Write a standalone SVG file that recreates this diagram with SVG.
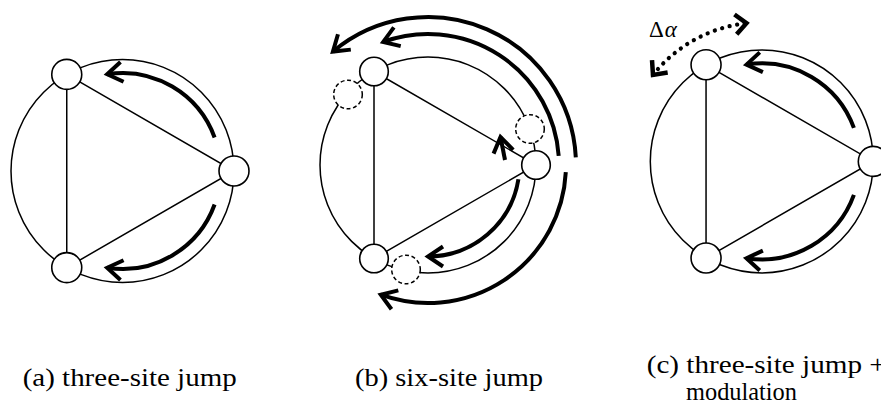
<svg xmlns="http://www.w3.org/2000/svg" width="881" height="412" viewBox="0 0 881 412">
<style>
.thin{fill:none;stroke:#000;stroke-width:1.5}
.node{fill:#fff;stroke:#000;stroke-width:1.6}
.ghost{fill:#fff;stroke:#000;stroke-width:1.5;stroke-dasharray:4 2.6}
.jump{fill:none;stroke:#000;stroke-width:4;marker-end:url(#ah)}
.dots{fill:none;stroke:#000;stroke-width:4.2;stroke-linecap:round;stroke-dasharray:0.1 7.6}
</style>
<defs>
<marker id="ah" markerUnits="userSpaceOnUse" markerWidth="30" markerHeight="30" viewBox="-20 -15 30 30" refX="0" refY="0" orient="auto" overflow="visible">
<path d="M -15 -10 L 0 0 L -15 10" fill="none" stroke="#000" stroke-width="4" stroke-linejoin="miter"/>
</marker>
<marker id="ahd" markerUnits="userSpaceOnUse" markerWidth="30" markerHeight="30" viewBox="-20 -15 30 30" refX="0" refY="0" orient="auto-start-reverse" overflow="visible">
<path d="M -11 -10 L 0 0 L -11 10" fill="none" stroke="#000" stroke-width="4.5" stroke-linejoin="miter"/>
</marker>
</defs>
<rect width="881" height="412" fill="#fff"/>

<!-- Panel (a) -->
<g id="panel-a">
<g id="a-connectors">
<circle class="thin" cx="122.5" cy="171" r="111.5"/>
<path class="thin" d="M 66.75 74.4 L 234 171 L 66.75 267.6 Z"/>
<path class="jump" d="M 214.6 137.5 A 98 98 0 0 0 107.2 74.2"/>
<path class="jump" d="M 214.6 204.5 A 98 98 0 0 1 107.2 267.8"/>
</g>
<g id="a-node-top"><circle class="node" cx="66.75" cy="74.4" r="15"/></g>
<g id="a-node-right"><circle class="node" cx="234" cy="171" r="15"/></g>
<g id="a-node-bottom"><circle class="node" cx="66.75" cy="267.6" r="15"/></g>
<text font-family="'Liberation Serif', 'DejaVu Serif', serif" font-size="25" x="22.7" y="386" textLength="214" lengthAdjust="spacingAndGlyphs">(a) three-site jump</text>
</g>

<!-- Panel (b) -->
<g id="panel-b">
<g id="b-connectors">
<circle class="thin" cx="428" cy="165" r="108"/>
<path class="thin" d="M 374 71.5 L 536 165 L 374 258.5 Z"/>
<path class="jump" d="M 575.8 157.3 A 148 148 0 0 0 332.9 51.6"/>
<path class="jump" d="M 558.7 155.9 A 131 131 0 0 0 383.2 41.9"/>
<path class="jump" d="M 565.8 172.2 A 138 138 0 0 1 380.8 294.7"/>
<path class="jump" d="M 518.4 179.3 A 91.5 91.5 0 0 1 428 256.5"/>
<path class="jump" d="M 505 160 L 500.5 137"/>
</g>
<g id="b-ghost-top"><circle class="ghost" cx="348" cy="94.5" r="14.3"/></g>
<g id="b-ghost-right"><circle class="ghost" cx="530" cy="129" r="14.3"/></g>
<g id="b-ghost-bottom"><circle class="ghost" cx="406" cy="269.5" r="14.3"/></g>
<g id="b-node-top"><circle class="node" cx="374" cy="71.5" r="14.3"/></g>
<g id="b-node-right"><circle class="node" cx="536" cy="165" r="14.3"/></g>
<g id="b-node-bottom"><circle class="node" cx="374" cy="258.5" r="14.3"/></g>
<text font-family="'Liberation Serif', 'DejaVu Serif', serif" font-size="25" x="355" y="386" textLength="188" lengthAdjust="spacingAndGlyphs">(b) six-site jump</text>
</g>

<!-- Panel (c) -->
<g id="panel-c">
<g id="c-connectors">
<circle class="thin" cx="761.8" cy="161.4" r="111.5"/>
<path class="thin" d="M 706.05 64.8 L 873.3 161.4 L 706.05 258 Z"/>
<path class="jump" d="M 853.9 127.9 A 98 98 0 0 0 746.5 64.6"/>
<path class="jump" d="M 853.9 194.9 A 98 98 0 0 1 746.5 258.2"/>
<path class="dots" d="M 653 74.9 A 139 139 0 0 1 746.5 23.2" marker-start="url(#ahd)" marker-end="url(#ahd)"/>
</g>
<g id="c-node-top"><circle class="node" cx="706.05" cy="64.8" r="15"/></g>
<g id="c-node-right"><circle class="node" cx="873.3" cy="161.4" r="15"/></g>
<g id="c-node-bottom"><circle class="node" cx="706.05" cy="258" r="15"/></g>
<text font-family="'Liberation Serif', 'DejaVu Serif', serif" font-size="23" x="649" y="37">Δ<tspan font-style="italic" dx="1">α</tspan></text>
<text font-family="'Liberation Serif', 'DejaVu Serif', serif" font-size="25" x="646.7" y="373" textLength="239" lengthAdjust="spacingAndGlyphs">(c) three-site jump +</text>
<text font-family="'Liberation Serif', 'DejaVu Serif', serif" font-size="25" x="686" y="400" textLength="111" lengthAdjust="spacingAndGlyphs">modulation</text>
</g>
</svg>
